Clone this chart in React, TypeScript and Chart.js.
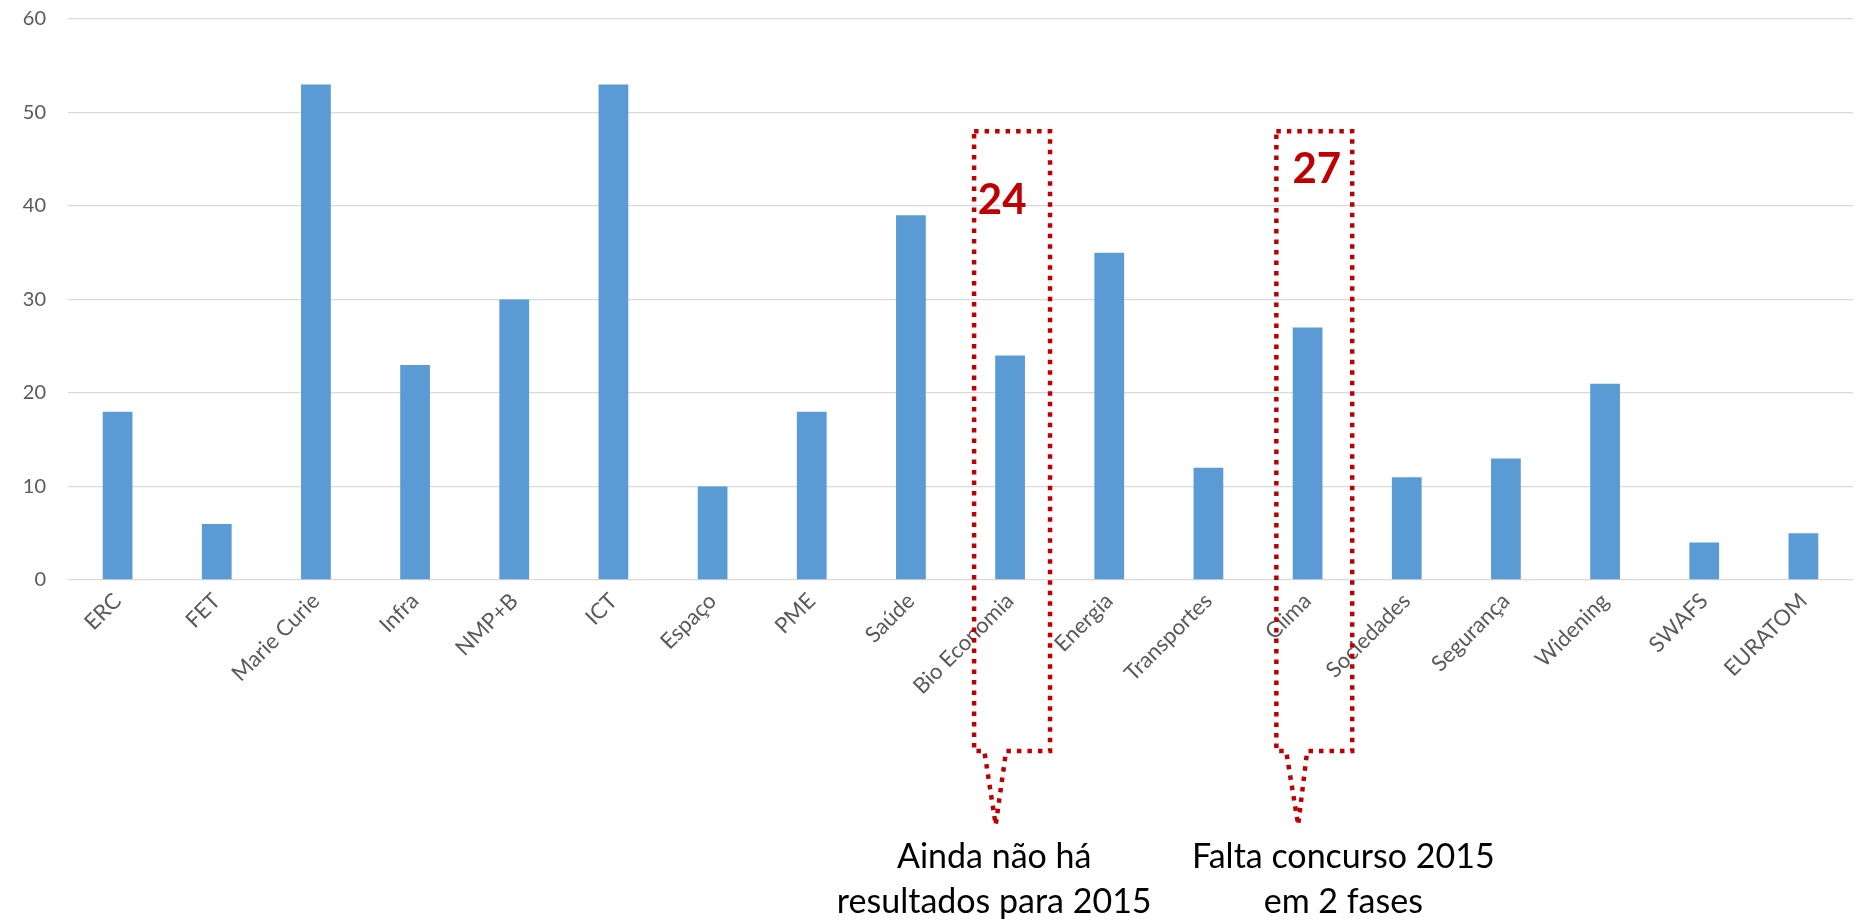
import React, { useEffect, useRef } from 'react';
import { Chart, registerables } from 'chart.js';

Chart.register(...registerables);

const categories = [
  'ERC', 'FET', 'Marie Curie', 'Infra', 'NMP+B', 'ICT', 'Espaço', 'PME', 'Saúde',
  'Bio Economia', 'Energia', 'Transportes', 'Clima', 'Sociedades', 'Segurança',
  'Widening', 'SWAFS', 'EURATOM',
];
const values = [18, 6, 53, 23, 30, 53, 10, 18, 39, 24, 35, 12, 27, 11, 13, 21, 4, 5];
const yTickMin = 0;
const yTickMax = 60;
const yTickStep = 10;

const calloutCategories = ['Bio Economia', 'Clima'];
const calloutNumbers = ['24', '27'];
const calloutNotes = [
  ['Ainda não há', 'resultados para 2015'],
  ['Falta concurso 2015', 'em 2 fases'],
];

// geometry of the callouts, in category-width fractions and value units
const calloutShapes = [
  { left: -0.363, right: 0.403, top: 48, bottom: -18.3, baseL: -0.26, baseR: -0.04, tip: -0.145, tipV: -26.2, numX: -0.08, numV: 40.6, noteX: -0.16 },
  { left: -0.315, right: 0.45, top: 48, bottom: -18.3, baseL: -0.216, baseR: -0.004, tip: -0.095, tipV: -26.2, numX: 0.093, numV: 43.9, noteX: 0.36 },
];
const noteLineValues = [-30.8, -35.6];

const calloutPlugin = {
  id: 'callouts',
  afterDraw(chart: any) {
    const xs = chart.scales.x;
    const ys = chart.scales.y;
    const ctx = chart.ctx;
    const slot = xs.getPixelForValue(1) - xs.getPixelForValue(0);
    calloutCategories.forEach((cat, i) => {
      const idx = categories.indexOf(cat);
      const cx = xs.getPixelForValue(idx);
      const s = calloutShapes[i];
      const X = (f: number) => cx + f * slot;
      const Y = (v: number) => ys.getPixelForValue(v);
      ctx.save();
      ctx.strokeStyle = '#C00000';
      ctx.lineWidth = 4.5;
      ctx.setLineDash([4.5, 6]);
      ctx.lineCap = 'butt';
      ctx.beginPath();
      ctx.moveTo(X(s.left), Y(s.top));
      ctx.lineTo(X(s.right), Y(s.top));
      ctx.lineTo(X(s.right), Y(s.bottom));
      ctx.lineTo(X(s.baseR), Y(s.bottom));
      ctx.lineTo(X(s.tip), Y(s.tipV));
      ctx.lineTo(X(s.baseL), Y(s.bottom));
      ctx.lineTo(X(s.left), Y(s.bottom));
      ctx.closePath();
      ctx.stroke();
      ctx.setLineDash([]);
      ctx.fillStyle = '#C00000';
      ctx.font = 'bold 42px Lato';
      ctx.textAlign = 'center';
      ctx.textBaseline = 'middle';
      ctx.fillText(calloutNumbers[i], X(s.numX), Y(s.numV));
      ctx.fillStyle = '#000000';
      ctx.font = '34px Lato';
      ctx.textBaseline = 'alphabetic';
      calloutNotes[i].forEach((line, j) => {
        ctx.fillText(line, X(s.noteX), Y(noteLineValues[j]));
      });
      ctx.restore();
    });
  },
};

export default function App() {
  const canvasRef = useRef<HTMLCanvasElement | null>(null);
  useEffect(() => {
    if (!canvasRef.current) return;
    const chart = new Chart(canvasRef.current, {
      type: 'bar',
      data: {
        labels: categories,
        datasets: [
          {
            data: values,
            backgroundColor: '#5B9BD5',
            borderWidth: 0,
            categoryPercentage: 1,
            barPercentage: 0.3,
          },
        ],
      },
      options: {
        animation: false,
        responsive: true,
        maintainAspectRatio: false,
        layout: { padding: { top: 19, right: 8, left: 0, bottom: 0 } },
        plugins: {
          legend: { display: false },
          tooltip: { enabled: false },
        },
        scales: {
          x: {
            grid: { display: false },
            border: { display: false },
            ticks: {
              color: '#595959',
              font: { family: 'Lato', size: 22 },
              minRotation: 45,
              maxRotation: 45,
              autoSkip: false,
              padding: 0,
            },
            afterFit(scale: any) {
              scale.height = 341;
            },
          },
          y: {
            min: yTickMin,
            max: yTickMax,
            ticks: {
              stepSize: yTickStep,
              color: '#595959',
              font: { family: 'Lato', size: 20 },
              padding: 0,
            },
            grid: {
              color: '#d9d9d9',
              lineWidth: 1.3,
              drawTicks: true,
              tickLength: 22,
              tickColor: 'rgba(0,0,0,0)',
            },
            border: { display: false },
            afterFit(scale: any) {
              scale.width = 68;
            },
          },
        },
      },
      plugins: [calloutPlugin],
    });
    return () => chart.destroy();
  }, []);
  return (
    <div style={{ position: 'fixed', left: 0, top: 0, width: 1861, height: 921, background: '#fff' }}>
      <canvas ref={canvasRef} />
    </div>
  );
}
